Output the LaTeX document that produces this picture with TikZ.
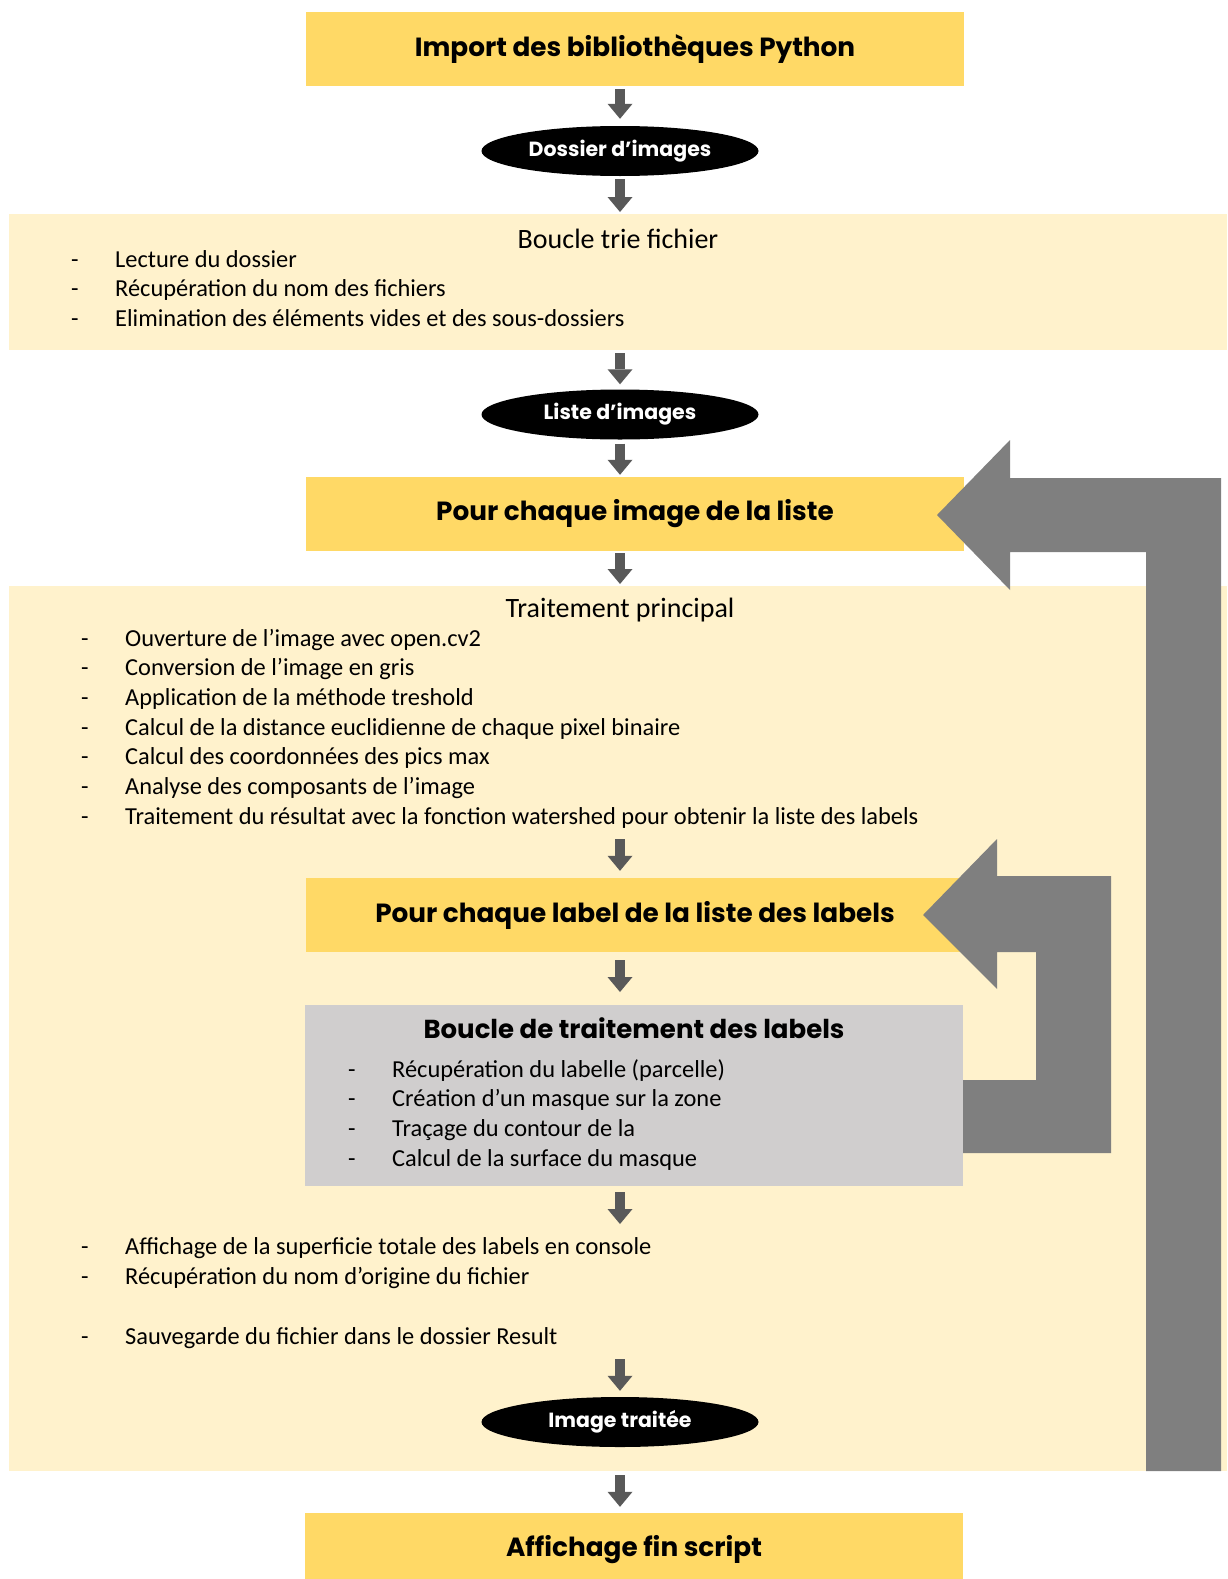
\documentclass[tikz,border=0pt]{standalone}
\usepackage{fontspec}
\setmainfont{Carlito}
\newfontfamily\headfont{Poppins}
\usetikzlibrary{shapes.geometric,arrows.meta,positioning}
\definecolor{gold}{HTML}{FFD966}
\definecolor{cream}{HTML}{FFF2CC}
\definecolor{labelgray}{HTML}{D0CECE}
\definecolor{loopgray}{HTML}{7F7F7F}
\definecolor{arrowgray}{HTML}{595959}
\tikzset{
  stepbox/.style={fill=gold,minimum width=658pt,minimum height=74pt,inner sep=0pt,font=\headfont\bfseries\fontsize{26.3}{30}\selectfont},
  panel/.style={fill=#1,anchor=north west,inner sep=0pt},
  datanode/.style={ellipse,fill=black,text=white,minimum width=277pt,minimum height=50pt,inner sep=0pt,font=\headfont\bfseries\fontsize{20.5}{24}\selectfont},
  paneltitle/.style={inner sep=0pt,font=\fontsize{28}{33}\selectfont},
  puce/.style={anchor=base west,inner sep=0pt,font=\fontsize{24.4}{29.7}\selectfont,execute at begin node={\makebox[44pt][l]{-}}},
}

\begin{document}
\begin{tikzpicture}[
    x=1pt,y=-1pt,
    flow/.style={arrowgray,line width=10pt,-{Triangle[width=25pt,length=15pt,line width=0pt]}},
  ]
  \useasboundingbox (0,0) rectangle (1227,1579);
  % background panels
  \node[panel=cream,minimum width=1218pt,minimum height=136pt] (boucle) at (9,214) {};
  \node[panel=cream,minimum width=1218pt,minimum height=885pt] (traitement) at (9,586) {};
  \node[panel=labelgray,minimum width=658pt,minimum height=181pt] (labels) at (305,1005) {};
  % main steps
  \node[stepbox] (import) at (635,49) {Import des bibliothèques Python};
  \node[datanode] (dossier) at (620,151) {Dossier d’images};
  \node[datanode] (liste) at (620,414.5) {Liste d’images};
  \node[stepbox] (chaqueimage) at (635,514) {Pour chaque image de la liste};
  \node[stepbox] (chaquelabel) at (635,915) {Pour chaque label de la liste des labels};
  \node[datanode] (traitee) at (620,1422) {Image traitée};
  \node[stepbox] (fin) at (634,1550) {Affichage fin script};
  % panel titles
  \node[paneltitle] (tboucle) at (618,239) {Boucle trie fichier};
  \node[paneltitle] (tprincipal) at (620,610) {Traitement principal};
  \node[inner sep=0pt,font=\headfont\bfseries\fontsize{26}{30}\selectfont] (tlabels) at (634,1028) {Boucle de traitement des labels};
  % bullet lists
  \foreach \txt [count=\i] in {Lecture du dossier,Récupération du nom des fichiers,Elimination des éléments vides et des sous-dossiers}
    \node[puce] (a\i) at (71,{267+29.7*(\i-1)}) {\txt};
  \foreach \txt [count=\i] in {Ouverture de l’image avec open.cv2,Conversion de l’image en gris,Application de la méthode treshold,Calcul de la distance euclidienne de chaque pixel binaire,Calcul des coordonnées des pics max,Analyse des composants de l’image,Traitement du résultat avec la fonction watershed pour obtenir la liste des labels}
    \node[puce] (t\i) at (81,{646+29.7*(\i-1)}) {\txt};
  \foreach \txt [count=\i] in {Récupération du labelle (parcelle),Création d’un masque sur la zone,Traçage du contour de la,Calcul de la surface du masque}
    \node[puce] (g\i) at (348,{1077+29.7*(\i-1)}) {\txt};
  \node[puce] (f1) at (81,1254) {Affichage de la superficie totale des labels en console};
  \node[puce] (f2) at (81,1284) {Récupération du nom d’origine du fichier};
  \node[puce] (f3) at (81,1344) {Sauvegarde du fichier dans le dossier Result};
  % flow arrows
  \draw[flow,shorten <=3pt,shorten >=7pt] (import.south -| dossier) -- (dossier.north);
  \draw[flow,shorten <=3pt,shorten >=2pt] (dossier.south) -- (boucle.north -| dossier);
  \draw[flow,shorten <=3pt,shorten >=5pt] (boucle.south -| liste) -- (liste.north);
  \draw[flow,shorten <=4pt,shorten >=2pt] (liste.south) -- (chaqueimage.north -| liste);
  \draw[flow,shorten <=2pt,shorten >=2pt] (chaqueimage.south -| liste) -- (traitement.north -| liste);
  \draw[flow,shorten <=15pt,shorten >=7pt] (t7.base -| liste) -- (chaquelabel.north -| liste);
  \draw[flow,shorten <=8pt,shorten >=13pt] (chaquelabel.south -| liste) -- (labels.north -| liste);
  \draw[flow,shorten <=6pt,shorten >=30pt] (labels.south -| liste) -- (f1.base -| liste);
  \draw[flow,shorten <=15pt,shorten >=6pt] (f3.base -| traitee) -- (traitee.north);
  \draw[flow,shorten <=4pt,shorten >=6pt] (traitement.south -| traitee) -- (fin.north -| traitee);
  % loop arrows
  \fill[loopgray] (1146,1471) -- (1146,552) -- (1010,552) -- (1010,590) -- (937,515)
    -- (1010,440) -- (1010,478) -- (1221,478) -- (1221,1471) -- cycle;
  \fill[loopgray] (963,1080) -- (1036,1080) -- (1036,952) -- (997,952) -- (997,989) -- (923,915)
    -- (997,839) -- (997,876) -- (1111,876) -- (1111,1153) -- (963,1153) -- cycle;
\end{tikzpicture}
\end{document}
